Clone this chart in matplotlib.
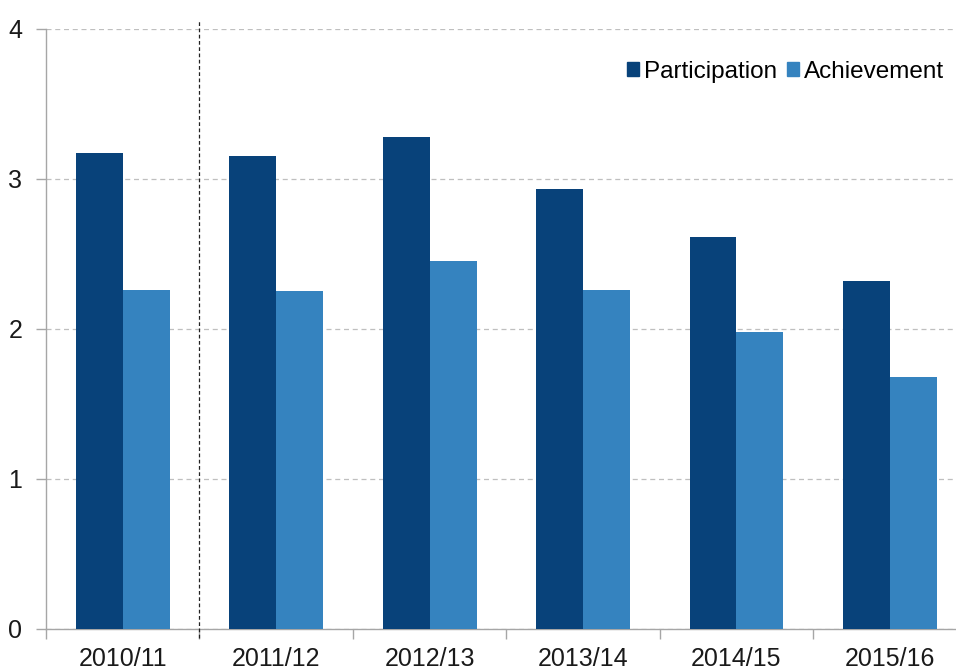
import matplotlib
matplotlib.use("Agg")
import matplotlib.pyplot as plt
from matplotlib.patches import Patch
import numpy as np

plt.rcParams['font.family'] = ['Liberation Sans', 'DejaVu Sans']

years = ['2010/11', '2011/12', '2012/13', '2013/14', '2014/15', '2015/16']
participation = [3.17, 3.15, 3.28, 2.93, 2.61, 2.32]
achievement = [2.26, 2.25, 2.45, 2.26, 1.98, 1.68]

dark = '#08427a'
light = '#3583bf'
grey = '#a6a6a6'

fig = plt.figure(figsize=(9.56, 6.71), dpi=100)
ax = fig.add_axes([0.0481, 0.063, 0.963, 0.894])

x = np.arange(len(years))
w = 0.306
ax.bar(x - w / 2, participation, w, color=dark, zorder=3)
ax.bar(x + w / 2, achievement, w, color=light, zorder=3)

ax.set_xlim(-0.5, len(years) - 0.5)
ax.set_ylim(0, 4)
ax.set_yticks([0, 1, 2, 3, 4])
ax.yaxis.grid(True, linestyle=(0, (4, 3)), color='#bfbfbf', linewidth=0.9, zorder=0)

# category labels at centres, ticks at the boundaries
ax.set_xticks(x)
ax.set_xticklabels(years)
ax.set_xticks(np.arange(-0.5, len(years)), minor=True)
ax.tick_params(axis='x', which='major', length=0, pad=13, labelsize=18, colors='#1a1a1a')
ax.tick_params(axis='x', which='minor', length=7, color=grey, width=1)
ax.tick_params(axis='y', length=7, color=grey, width=1, pad=10, labelsize=18, labelcolor='#1a1a1a')

for s in ['top', 'right']:
    ax.spines[s].set_visible(False)
for s in ['left', 'bottom']:
    ax.spines[s].set_color(grey)
    ax.spines[s].set_linewidth(1)

# dashed break line between first and second year
ax.axvline(0.5, ymin=-0.015, ymax=1.015, color='#222222', linestyle=(0, (3, 2)),
           linewidth=0.9, clip_on=False, zorder=4)

handles = [Patch(color=dark, label='Participation'), Patch(color=light, label='Achievement')]
ax.legend(handles=handles, ncol=2, loc='upper right', bbox_to_anchor=(0.986, 0.963),
          frameon=False, fontsize=17.5, handlelength=0.5, handleheight=0.5,
          handletextpad=0.2, columnspacing=0.4, borderaxespad=0)

fig.savefig('out.png', dpi=100)
